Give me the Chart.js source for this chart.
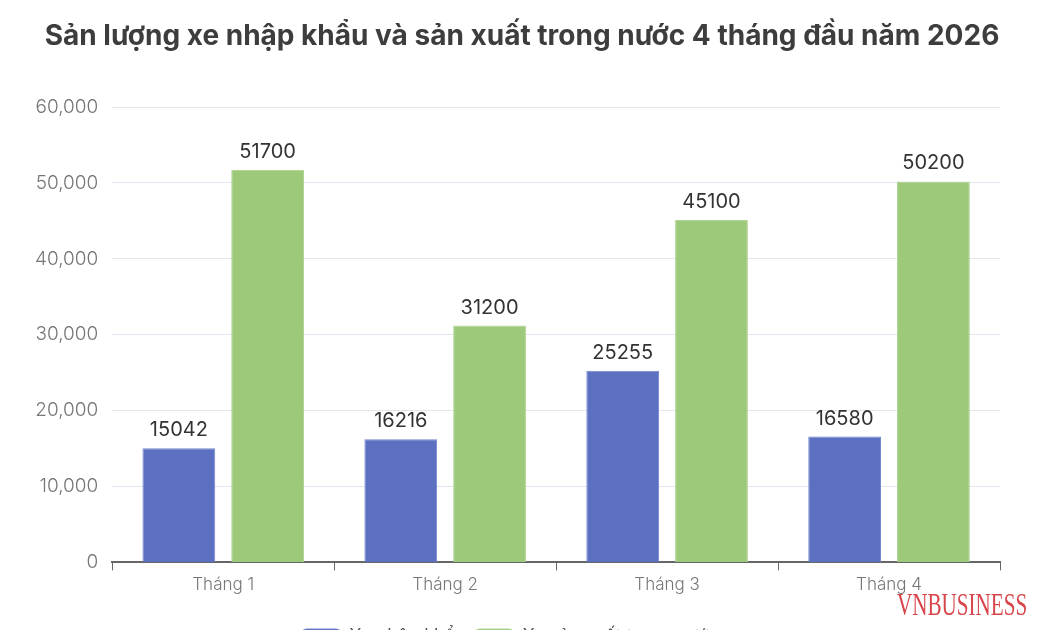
<!DOCTYPE html>
<html>
<head>
<meta charset="utf-8">
<script src="https://cdn.jsdelivr.net/npm/chart.js@4.4.1/dist/chart.umd.min.js"></script>
<style>
    html, body { margin: 0; padding: 0; background: #fff; overflow: hidden; }
    #wrap { position: relative; width: 1050px; height: 656px; }
    #title {
        position: absolute; left: 0; top: 18px; width: 1044px;
        text-align: center; line-height: 34px;
        font-family: Inter, "Noto Sans", sans-serif;
        font-size: 28px; font-weight: bold; color: #3d3d3d;
        white-space: nowrap;
    }
    #brand {
        position: absolute; left: 897px; top: 586px;
        font-family: "Liberation Serif", "DejaVu Serif", serif;
        font-size: 32px; color: #d8464b;
        transform: scaleX(0.66); transform-origin: left top;
        white-space: nowrap;
    }
</style>
</head>
<body>
<div id="wrap">
    <canvas id="myChart" width="1050" height="656"></canvas>
    <div id="title"></div>
    <div id="brand">VNBUSINESS</div>
</div>
<script>
const titleText = 'Sản lượng xe nhập khẩu và sản xuất trong nước 4 tháng đầu năm 2026';
const months = ['Tháng 1', 'Tháng 2', 'Tháng 3', 'Tháng 4'];
const seriesNames = ['Xe nhập khẩu', 'Xe sản xuất trong nước'];
const importValues = [15042, 16216, 25255, 16580];
const domesticValues = [51700, 31200, 45100, 50200];

const fontFamily = 'Inter, "Noto Sans", sans-serif';

document.getElementById('title').textContent = titleText;

// ghi số liệu trên đầu mỗi cột
const barValueLabels = {
    id: 'barValueLabels',
    afterDatasetsDraw(chart) {
        const ctx = chart.ctx;
        ctx.save();
        ctx.font = '20px ' + fontFamily;
        ctx.fillStyle = '#333';
        ctx.textAlign = 'center';
        ctx.textBaseline = 'bottom';
        chart.data.datasets.forEach((ds, i) => {
            chart.getDatasetMeta(i).data.forEach((bar, j) => {
                ctx.fillText(String(ds.data[j]), bar.x, bar.y - 8);
            });
        });
        ctx.restore();
    }
};

const ctx = document.getElementById('myChart').getContext('2d');
const myChart = new Chart(ctx, {
    type: 'bar',
    data: {
        labels: months,
        datasets: [
            {
                label: seriesNames[0],
                data: importValues,
                backgroundColor: '#5b70c0',
                borderColor: '#7385cc',
                borderWidth: 1,
                categoryPercentage: 0.8,
                barPercentage: 0.82
            },
            {
                label: seriesNames[1],
                data: domesticValues,
                backgroundColor: '#9dc97b',
                borderColor: '#b0d494',
                borderWidth: 1,
                categoryPercentage: 0.8,
                barPercentage: 0.82
            }
        ]
    },
    options: {
        responsive: false,
        animation: false,
        layout: {
            padding: { top: 107, left: 21, right: 50, bottom: 0 }
        },
        plugins: {
            title: { display: false },
            legend: {
                position: 'bottom',
                title: {
                    display: true,
                    text: '',
                    font: { size: 1 },
                    padding: { top: 9, bottom: 9 }
                },
                labels: {
                    boxWidth: 38,
                    boxHeight: 16,
                    useBorderRadius: true,
                    borderRadius: 4,
                    padding: 10,
                    color: '#555',
                    font: { family: fontFamily, size: 18 }
                }
            },
            tooltip: { enabled: false }
        },
        scales: {
            x: {
                grid: {
                    display: true,
                    drawOnChartArea: false,
                    drawTicks: true,
                    tickLength: 8,
                    color: '#666'
                },
                border: { display: true, color: '#666', width: 2 },
                ticks: {
                    color: '#777',
                    padding: 4,
                    font: { family: fontFamily, size: 17, weight: 300 }
                }
            },
            y: {
                min: 0,
                max: 60000,
                ticks: {
                    stepSize: 10000,
                    color: '#777',
                    padding: 14,
                    font: { family: fontFamily, size: 19, weight: 300 }
                },
                grid: { color: '#e4e6ef', drawTicks: false },
                border: { display: false }
            }
        }
    },
    plugins: [barValueLabels]
});
</script>
</body>
</html>
